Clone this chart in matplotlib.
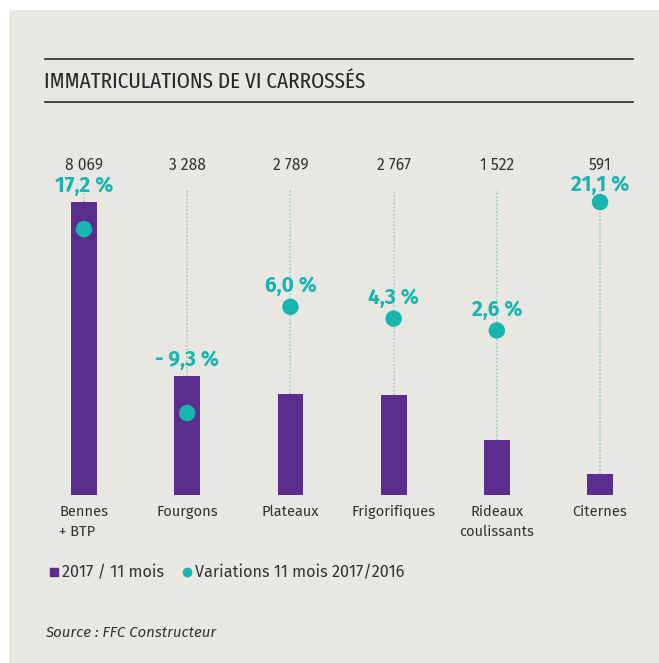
import matplotlib.pyplot as plt
from matplotlib.lines import Line2D
from matplotlib.patches import Rectangle

categories = ['Bennes\n+ BTP', 'Fourgons', 'Plateaux', 'Frigorifiques',
              'Rideaux\ncoulissants', 'Citernes']
volumes = [8069, 3288, 2789, 2767, 1522, 591]
variations = [17.2, -9.3, 6.0, 4.3, 2.6, 21.1]

PURPLE = '#5b2d8e'
TEAL = '#17b5b0'
DOTLINE = '#9fd0c9'
BG = '#e8e7e1'
DARK = '#333333'

W, H = 659, 663
fig = plt.figure(figsize=(W / 100, H / 100), dpi=100)
fig.patch.set_facecolor('white')
fig.patches.append(Rectangle((9 / W, 0), 650 / W, 653 / H, transform=fig.transFigure,
                             facecolor=BG, edgecolor='none', zorder=-10))

def fx(px):
    return px / W

def fy(py):
    return 1 - py / H

# axes: bottom at 495 px, top at 150 px, left 30 px, right 650 px
ax = fig.add_axes([fx(30), fy(495), fx(620), 345 / H])
ax.set_facecolor('none')
ax2 = ax.twinx()

x = list(range(len(categories)))
ax.set_xlim(-0.523, 5.484)
ax.set_ylim(0, 345 / 0.03631)
ax2.set_ylim(-(495 - 348.5) / 6.94, (348.5 - 150) / 6.94)

for a in (ax, ax2):
    a.axis('off')

# dotted guide lines from label row down to bar top
line_top = (495 - 190) / 0.03631
ax.vlines(x, volumes, line_top, colors=DOTLINE, linestyles=(0, (1, 1.2)),
          linewidth=1.2, zorder=1)

ax.bar(x, volumes, width=0.25, color=PURPLE, zorder=2)
ax2.scatter(x, variations, s=140, color=TEAL, zorder=3, edgecolors='none')

label_font = ['Fira Sans', 'Lato', 'DejaVu Sans']
title_font = ['Fira Sans Extra Condensed', 'Fira Sans Condensed', 'DejaVu Sans']

# volume labels
for xi, v in zip(x, volumes):
    txt = f'{v:,}'.replace(',', '\u00a0')
    ax.text(xi, (495 - 165) / 0.03631, txt, ha='center', va='center',
            fontsize=11.2, color=DARK, family=label_font)

# variation labels above whichever is higher: bar top or dot,
# but never higher than the row just under the volume labels
for xi, v, p in zip(x, volumes, variations):
    bx, bar_y = ax.transData.transform((xi, v))
    dot_y = ax2.transData.transform((xi, p))[1]
    txt = f'{p:.1f} %'.replace('.', ',').replace('-', '- ')
    if bar_y > dot_y:
        ly = bar_y + 16
    else:
        ly = dot_y + 21
    ly = min(ly, H - 185)
    ax2.annotate(txt, (xi, p), xytext=(bx, ly), textcoords='figure pixels',
                 ha='center', va='center', fontsize=15, fontweight='bold',
                 color=TEAL, family=label_font, zorder=4)

# category labels
for xi, c in zip(x, categories):
    ax.text(xi, -(505 - 495) / 0.03631, c, ha='center', va='top',
            fontsize=10.5, color=DARK, family=label_font,
            multialignment='left' if xi == 0 else 'center', linespacing=1.45)

# title with rules
fig.add_artist(Line2D([fx(45), fx(633)], [fy(59), fy(59)], color='#2a2a2a', lw=1.2))
fig.add_artist(Line2D([fx(45), fx(633)], [fy(102), fy(102)], color='#2a2a2a', lw=1.2))
fig.text(fx(44), fy(82), 'IMMATRICULATIONS DE VI CARROSSÉS', ha='left', va='center',
         fontsize=16.5, color='#2a2a2a', family=title_font)

# legend
handles = [Line2D([], [], marker='s', color=PURPLE, linestyle='none', markersize=6),
           Line2D([], [], marker='o', color=TEAL, linestyle='none', markersize=6)]
fig.legend(handles, ['2017 / 11 mois', 'Variations 11 mois 2017/2016'],
           loc='center left', bbox_to_anchor=(fx(31), fy(573)), ncol=2,
           frameon=False, handletextpad=0.0, columnspacing=0.9, handlelength=1.0,
           prop={'family': label_font, 'size': 11.7}, labelcolor=DARK)

fig.text(fx(45), fy(633), 'Source : FFC Constructeur', ha='left', va='center',
         fontsize=10.8, style='italic', color=DARK, family=label_font)

fig.savefig('out.png', dpi=100, facecolor=fig.get_facecolor())
